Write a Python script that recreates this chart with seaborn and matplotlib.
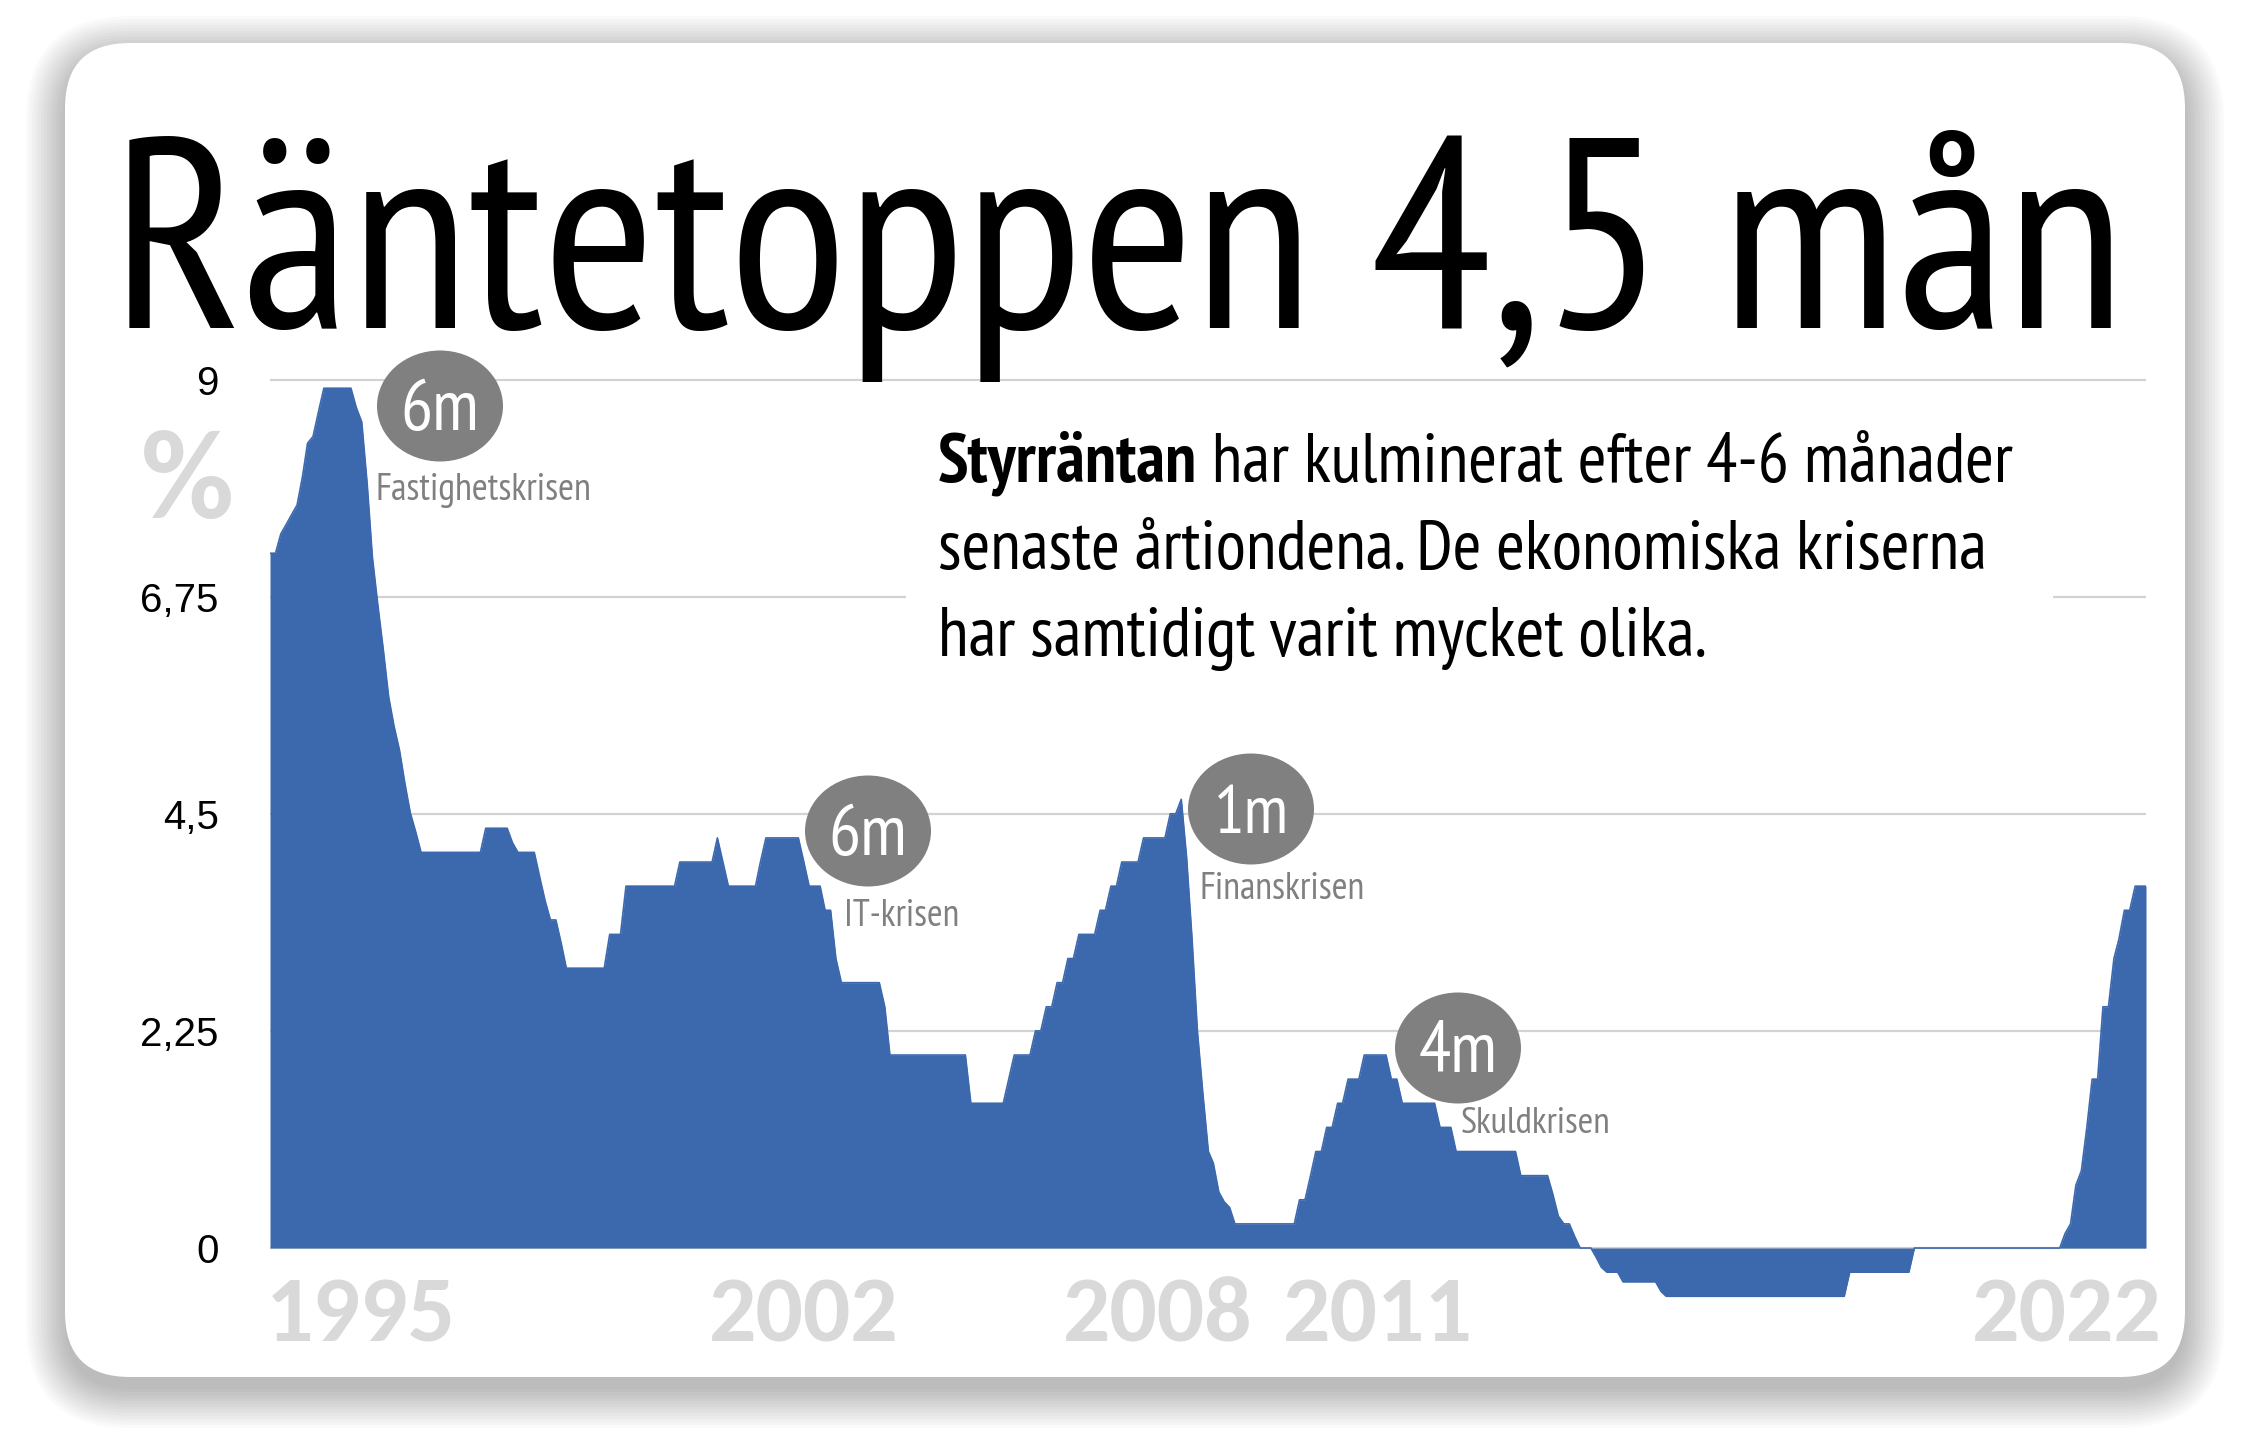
import pandas as pd
import seaborn as sns
import matplotlib.pyplot as plt
from matplotlib import font_manager as fm
from matplotlib.patches import FancyBboxPatch, Ellipse, Rectangle
from matplotlib.transforms import IdentityTransform

# styrräntan, månad då nivån ändras -> ny nivå
change_month = [
    '1994-08', '1994-10', '1994-11', '1994-12', '1995-01', '1995-02', '1995-03', '1995-04',
    '1995-05', '1995-06', '1995-12', '1996-01', '1996-02', '1996-03', '1996-04', '1996-05',
    '1996-06', '1996-07', '1996-08', '1996-09', '1996-10', '1996-11', '1996-12', '1997-12',
    '1998-05', '1998-06', '1998-10', '1998-11', '1998-12', '1999-02', '1999-03', '1999-11',
    '2000-02', '2000-12', '2001-07', '2001-08', '2001-09', '2002-03', '2002-04', '2002-11',
    '2002-12', '2003-03', '2003-05', '2003-06', '2004-02', '2004-03', '2005-06', '2006-01',
    '2006-02', '2006-06', '2006-08', '2006-10', '2006-12', '2007-02', '2007-06', '2007-08',
    '2007-10', '2008-02', '2008-07', '2008-09', '2008-10', '2008-11', '2008-12', '2009-01',
    '2009-02', '2009-03', '2009-04', '2009-05', '2009-06', '2009-07', '2010-07', '2010-09',
    '2010-10', '2010-12', '2011-02', '2011-04', '2011-07', '2011-12', '2012-02', '2012-09',
    '2012-12', '2013-12', '2014-06', '2014-07', '2014-08', '2014-10', '2014-11', '2015-02',
    '2015-03', '2015-04', '2015-07', '2016-02', '2016-03', '2019-01', '2020-01', '2022-05',
    '2022-06', '2022-07', '2022-08', '2022-09', '2022-10', '2022-12', '2023-02', '2023-03',
    '2023-04', '2023-06',
]
change_rate = [
    7.20, 7.40, 7.50, 7.60, 7.70, 8.00, 8.34, 8.41,
    8.66, 8.91, 8.71, 8.56, 7.91, 7.16, 6.66, 6.21,
    5.71, 5.41, 5.16, 4.81, 4.51, 4.31, 4.10, 4.35,
    4.20, 4.10, 3.85, 3.60, 3.40, 3.15, 2.90, 3.25,
    3.75, 4.00, 4.25, 4.00, 3.75, 4.00, 4.25, 4.00,
    3.75, 3.50, 3.00, 2.75, 2.50, 2.00, 1.50, 1.75,
    2.00, 2.25, 2.50, 2.75, 3.00, 3.25, 3.50, 3.75,
    4.00, 4.25, 4.50, 4.65, 4.05, 3.20, 2.25, 1.60,
    1.00, 0.88, 0.58, 0.48, 0.42, 0.25, 0.50, 0.75,
    1.00, 1.25, 1.50, 1.75, 2.00, 1.75, 1.50, 1.25,
    1.00, 0.75, 0.55, 0.33, 0.25, 0.12, 0.00, -0.10,
    -0.20, -0.25, -0.35, -0.45, -0.50, -0.25, 0.00, 0.15,
    0.25, 0.65, 0.80, 1.25, 1.75, 2.50, 3.00, 3.20,
    3.50, 3.75,
]
first_month = '1994-08'
last_month = '2023-08'

yticks = [0, 2.25, 4.5, 6.75, 9]
ytick_labels = ['0', '2,25', '4,5', '6,75', '9']
year_labels = ['1995', '2002', '2008', '2011', '2022']
bubble_text = ['6m', '6m', '1m', '4m']
crisis_names = ['Fastighetskrisen', 'IT-krisen', 'Finanskrisen', 'Skuldkrisen']
title = 'Räntetoppen 4,5 mån'
para_bold = 'Styrräntan'
para_lines = [' har kulminerat efter 4-6 månader',
              'senaste årtiondena. De ekonomiska kriserna',
              'har samtidigt varit mycket olika.']

blue = '#3c68ad'
grey = '#808080'
light = '#d9d9d9'

W, H = 2254, 1430


def fx(x):
    return x / W


def fy(y):
    return 1 - y / H


installed = {f.name for f in fm.fontManager.ttflist}


def pick(fams):
    for f in fams:
        if f in installed:
            return [f, 'DejaVu Sans']
    return ['DejaVu Sans']


rate = pd.Series(change_rate, index=pd.to_datetime(change_month))
months = pd.date_range(first_month, last_month, freq='MS')
rate = rate.reindex(months).ffill()
df = pd.DataFrame({'month': months, 'rate': rate.values})

sns.set_theme(style='white')
plt.rcParams['font.family'] = pick(['Liberation Sans', 'Arimo'])
narrow = pick(['PT Sans Narrow', 'Fira Sans Condensed', 'Open Sans Condensed', 'Roboto Condensed',
               'Archivo Narrow', 'Barlow Semi Condensed', 'Asap Condensed', 'Liberation Sans Narrow'])
heavy = pick(['Carlito', 'Lato'])

fig = plt.figure(figsize=(W / 100, H / 100), dpi=100, facecolor='white')

# kort med skugga (pixlar)
cx, cy, cw, ch = 65, H - 1377, 2120, 1334
for i in range(14):
    p = 3 * i
    fig.add_artist(FancyBboxPatch((cx - p, cy - 12 - p), cw + 2 * p, ch + 2 * p,
                                  boxstyle=f'round,pad=0,rounding_size={65 + p}',
                                  transform=IdentityTransform(), fc='black', ec='none',
                                  alpha=0.018, zorder=-3))
fig.add_artist(FancyBboxPatch((cx, cy), cw, ch, boxstyle='round,pad=0,rounding_size=65',
                              transform=IdentityTransform(), fc='white', ec='none', zorder=-2))

ax = fig.add_axes([0.11979, 0.09014, 0.83230, 0.65119])
ax.patch.set_alpha(0)
ax.fill_between(df['month'], df['rate'], 0, color=blue, lw=0, zorder=2)
sns.lineplot(data=df, x='month', y='rate', ax=ax, color=blue, lw=1.2, zorder=3)
ax.set_xlim(months[0], months[-1])
ax.set_ylim(-0.55, 9.1)
ax.set_yticks(yticks, ytick_labels)
ax.set_xticks([])
ax.grid(axis='y', color='#d2d2d2', lw=1.6)
ax.set_axisbelow(True)
ax.tick_params(axis='y', length=0, pad=37, labelsize=29, labelcolor='black')
ax.set_xlabel('')
ax.set_ylabel('')
sns.despine(ax=ax, left=True, bottom=True)

fits = []  # (text, target width in px)

# rubrik och text
t_title = fig.text(fx(112), fy(328), title, family=narrow, fontsize=200,
                   ha='left', va='baseline', color='black')
fits.append((t_title, 2013))

fig.add_artist(Rectangle((fx(906), fy(700)), (2053 - 906) / W, 280 / H,
                         transform=fig.transFigure, fc='white', ec='none', zorder=1))
t_bold = fig.text(fx(938), fy(482), para_bold, family=narrow, weight='bold',
                  fontsize=50, ha='left', va='baseline', color='black')
t_lines = [fig.text(fx(938), fy(482 + 87 * k), s, family=narrow, fontsize=50,
                    ha='left', va='baseline', color='black')
           for k, s in enumerate(para_lines)]

# procent och årtal
fig.text(fx(187), fy(518), '%', family=heavy, weight='bold',
         fontsize=92, color=light, ha='center', va='baseline')
for lab, x in zip(year_labels, [361, 804, 1158, 1378, 2067]):
    t = fig.text(fx(x), fy(1341), lab, family=heavy, weight='bold',
                 fontsize=62, color=light, ha='center', va='baseline')
    fits.append((t, 190))

# bubblor med kriser
bubbles = [(440, 406), (868, 831), (1251, 809), (1458, 1048)]
name_pos = [(375, 500), (844, 926), (1199, 899), (1461, 1133)]
name_w = [216, 115, 165, 149]
bub_w = [79, 79, 75, 79]
for (bx, by), txt, name, (nx, ny), nw, tw in zip(bubbles, bubble_text, crisis_names,
                                                name_pos, name_w, bub_w):
    fig.add_artist(Ellipse((fx(bx), fy(by)), 126 / W, 111 / H, transform=fig.transFigure,
                           fc=grey, ec='none', zorder=2))
    t = fig.text(fx(bx), fy(by + 24), txt, family=narrow, fontsize=50, color='white',
                 ha='center', va='baseline', zorder=4)
    fits.append((t, tw))
    t = fig.text(fx(nx), fy(ny), name, family=narrow, fontsize=26, color=grey,
                 ha='left', va='baseline')
    fits.append((t, nw))

fig.canvas.draw()
r = fig.canvas.get_renderer()
for t, target in fits:
    t.set_fontsize(t.get_fontsize() * target / t.get_window_extent(r).width)
# textstorlek: medel av rad 1 (1062 px) och rad 2 (1064 px)
w1 = t_bold.get_window_extent(r).width + t_lines[0].get_window_extent(r).width
w2 = t_lines[1].get_window_extent(r).width
fs = 50 * (1062 / w1 + 1064 / w2) / 2
t_bold.set_fontsize(fs)
for t in t_lines:
    t.set_fontsize(fs)
fig.canvas.draw()
bw = t_bold.get_window_extent(r).width
t_lines[0].set_x(fx(938 + bw))

fig.savefig('out.png', dpi=100, facecolor='white')
